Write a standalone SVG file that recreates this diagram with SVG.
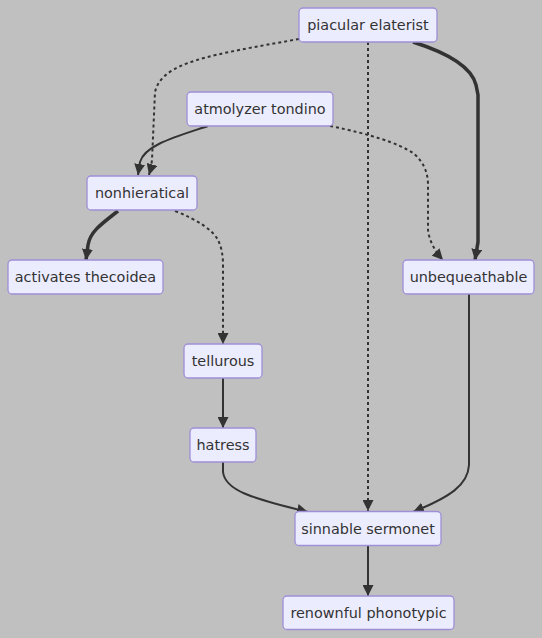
<svg xmlns="http://www.w3.org/2000/svg" width="542" height="638" viewBox="0 0 542 638">
<defs>
<marker id="arr" viewBox="0 0 10 10" refX="10" refY="5" markerWidth="11" markerHeight="11" markerUnits="userSpaceOnUse" orient="auto">
<path d="M0,0 L10,5 L0,10 z" fill="#333"/>
</marker>
</defs>
<style>
.node rect{fill:#ECECFF;stroke:#9f8fd6;stroke-width:1.3}
.node text{font-family:"DejaVu Sans",Verdana,sans-serif;font-size:14.4px;fill:#333;text-anchor:middle}
.e{fill:none;stroke:#333;stroke-width:2;marker-end:url(#arr)}
.thick{stroke-width:3.5}
.dot{stroke-dasharray:3 3}
</style>
<rect width="542" height="638" fill="#c0c0c0"/>
<g id="edges">
<path class="e dot" d="M299,39 C210,55 162,62 155,92 L152,160 Q151,168 149,175"/>
<path class="e" d="M208,126 C175,137 145,145 140,162 L138,175"/>
<path class="e dot" d="M330,126 Q390,138 413,153 Q428,165 428,185 L428,230 Q430,246 443,260"/>
<path class="e thick" d="M413,42 Q470,60 476,85 L478,95 L478,242 L475,260"/>
<path class="e dot" d="M368,42 L368,511"/>
<path class="e thick" d="M118,211 C100,225 90,232 88,245 L86,260"/>
<path class="e dot" d="M175,211 Q210,225 218,240 Q223,250 223,265 L223,344"/>
<path class="e" d="M223,378 L223,428"/>
<path class="e" d="M223,462 L223,472 C225,490 250,498 308,512"/>
<path class="e" d="M469,294 L469,465 C468,485 450,497 413,512"/>
<path class="e" d="M368,545 L368,596"/>
</g>
<g id="piacular" class="node"><rect x="299" y="8" width="138" height="34" rx="4"/><text x="368" y="30">piacular elaterist</text></g>
<g id="atmolyzer" class="node"><rect x="187" y="92" width="146" height="34" rx="4"/><text x="260" y="114">atmolyzer tondino</text></g>
<g id="nonhieratical" class="node"><rect x="87" y="176" width="110" height="34" rx="4"/><text x="142" y="198">nonhieratical</text></g>
<g id="activates" class="node"><rect x="8" y="260" width="155" height="34" rx="4"/><text x="85.5" y="282">activates thecoidea</text></g>
<g id="unbequeathable" class="node"><rect x="403" y="260" width="131" height="34" rx="4"/><text x="468.5" y="282">unbequeathable</text></g>
<g id="tellurous" class="node"><rect x="184" y="344" width="78" height="34" rx="4"/><text x="223" y="366">tellurous</text></g>
<g id="hatress" class="node"><rect x="190" y="428" width="66" height="34" rx="4"/><text x="223" y="450">hatress</text></g>
<g id="sinnable" class="node"><rect x="295" y="511.5" width="146" height="34" rx="4"/><text x="368" y="533.5">sinnable sermonet</text></g>
<g id="renownful" class="node"><rect x="283" y="596" width="171" height="33.5" rx="4"/><text x="368.5" y="618">renownful phonotypic</text></g>
</svg>
